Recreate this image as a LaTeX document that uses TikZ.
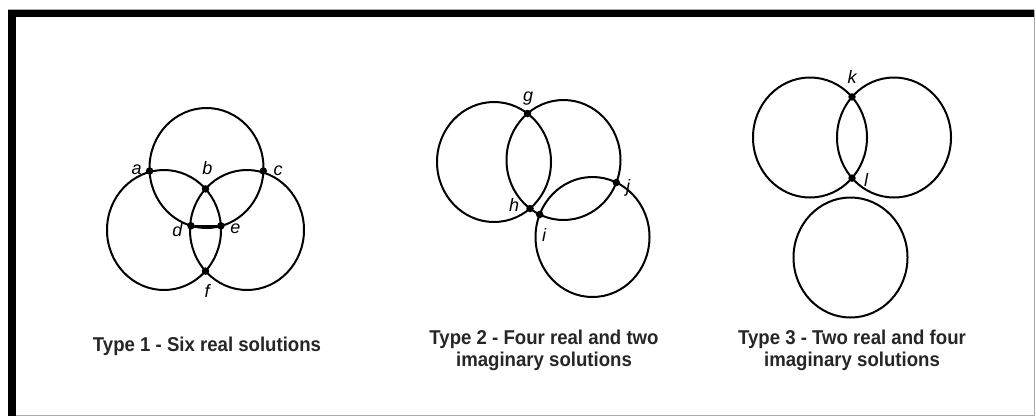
\documentclass[tikz,border=0pt]{standalone}
\usepackage{fontspec}
\setmainfont{Liberation Sans}
\newfontfamily\capfont[FakeStretch=0.93]{Liberation Sans Bold}
\newfontfamily\lblfont{Liberation Sans}
\begin{document}
\begin{tikzpicture}[x=1pt,y=-1pt,
  ring/.style={line width=2pt},
  ptdot/.style={circle,fill=black,inner sep=0pt,minimum size=7.5pt},
  lbl/.style={font=\lblfont\itshape\fontsize{18}{18}\selectfont,inner sep=0pt},
  captxt/.style={font=\capfont\fontsize{20}{22}\selectfont,inner sep=0pt,anchor=base,text=black!85}]
\useasboundingbox (0,0) rectangle (1035,416);
% frame
\fill[white] (0,0) rectangle (1035,416);
\fill[black] (8,10) rectangle (1034,17);
\fill[black] (8,10) rectangle (16,416);
\draw[gray!70,line width=1pt] (1034,10) -- (1034,415.5) -- (16,415.5);
\draw[gray!70,line width=0.6pt] (8,9.5) -- (1034,9.5);

% ---------- Type 1 ----------
\coordinate (T1) at (206.5,168);
\coordinate (L1) at (164,230);
\coordinate (R1) at (247,230);
\draw[ring] (T1) ellipse [x radius=57,y radius=60];
\draw[ring] (L1) ellipse [x radius=57,y radius=60];
\draw[ring] (R1) ellipse [x radius=57,y radius=60];
\node[ptdot] (a) at (149.6,171) {};
\node[ptdot] (b) at (205.5,188.9) {};
\node[ptdot] (c) at (263.3,171) {};
\node[ptdot] (d) at (191,225.8) {};
\node[ptdot] (e) at (220.9,225.8) {};
\node[ptdot] (f) at (205.5,271.1) {};
\draw[ring] (d) -- (e);
\node[lbl] (la) at (136.7,170) {a};
\node[lbl] (lb) at (207.5,168) {b};
\node[lbl] (lc) at (278,171) {c};
\node[lbl] (ld) at (177.5,230) {d};
\node[lbl] (le) at (235.5,229) {e};
\node[lbl] (lf) at (207,291) {f};

% ---------- Type 2 ----------
\coordinate (L2) at (494,162);
\coordinate (M2) at (563.5,160);
\coordinate (B2) at (592.5,237);
\draw[ring] (L2) ellipse [x radius=57,y radius=60];
\draw[ring] (M2) ellipse [x radius=57,y radius=60];
\draw[ring] (B2) ellipse [x radius=57,y radius=60];
\node[ptdot] (g) at (527.5,113.5) {};
\node[ptdot] (h) at (530,208.5) {};
\node[ptdot] (i) at (539.7,214.5) {};
\node[ptdot] (j) at (616.3,182.5) {};
\node[lbl] (lg) at (528,99) {g};
\node[lbl] (lh) at (514,205) {h};
\node[lbl] (li) at (544,235) {i};
\node[lbl] (lj) at (628,188) {j};

% ---------- Type 3 ----------
\coordinate (L3) at (810,137.5);
\coordinate (R3) at (894,137.5);
\coordinate (B3) at (850.5,257.5);
\draw[ring] (L3) ellipse [x radius=57,y radius=60];
\draw[ring] (R3) ellipse [x radius=57,y radius=60];
\draw[ring] (B3) ellipse [x radius=57,y radius=60];
\node[ptdot] (k) at (852,96.9) {};
\node[ptdot] (l) at (852,178.1) {};
\node[lbl] (lk) at (852,77) {k};
\node[lbl] (ll) at (866,180) {l};

% ---------- captions ----------
\node[captxt] (cap1) at (207,351) {Type 1 - Six real solutions};
\node[captxt] (cap2a) at (544,344) {Type 2 - Four real and two};
\node[captxt] (cap2b) at (544,366) {imaginary solutions};
\node[captxt] (cap3a) at (852,344) {Type 3 - Two real and four};
\node[captxt] (cap3b) at (852,366) {imaginary solutions};
\end{tikzpicture}
\end{document}
